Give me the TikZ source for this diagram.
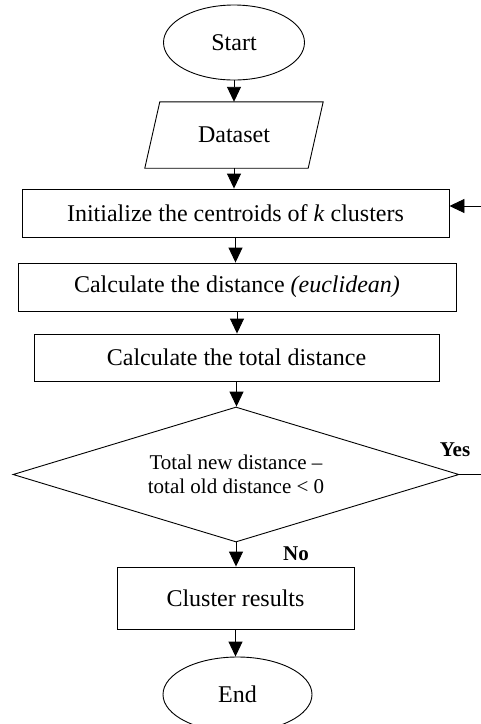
\documentclass[tikz,border=0pt]{standalone}
\usepackage{fontspec}
\setmainfont{Liberation Serif}
\usetikzlibrary{shapes.geometric,arrows.meta}
\begin{document}
\begin{tikzpicture}[x=1pt,y=-1pt,
  mainfont/.style={font=\fontsize{24}{28}\selectfont},
  box/.style={draw,line width=0.9pt,inner sep=0pt,mainfont},
  term/.style={ellipse,draw,line width=0.9pt,inner sep=0pt,minimum width=141pt,minimum height=75pt,mainfont},
  arr/.style={line width=0.9pt,-{Triangle[width=14pt,length=15pt]}},
  lbl/.style={font=\fontsize{21}{24}\bfseries\selectfont}]
\useasboundingbox (0,0) rectangle (481,724);
\node[term] (start) at (234,42.5) {Start};
\node[inner sep=0pt,minimum width=163pt,minimum height=66pt,mainfont] (data) at (234,135) {Dataset};
\draw[line width=0.9pt] ([xshift=7.5pt]data.north west) -- ([xshift=7.5pt]data.north east)
  -- ([xshift=-7.5pt]data.south east) -- ([xshift=-7.5pt]data.south west) -- cycle;
\node[box,minimum width=427pt,minimum height=48pt] (init) at (235.5,213) {Initialize the centroids of \textit{k} clusters};
\node[box,minimum width=438pt,minimum height=48pt] (calcd) at (237,287) {Calculate the distance \textit{(euclidean)}};
\node[box,minimum width=405pt,minimum height=47pt] (calct) at (236.5,357.5) {Calculate the total distance};
\node[diamond,draw,line width=0.9pt,inner sep=0pt,aspect=3.3,minimum width=446pt,minimum height=135pt,
  align=center,font=\fontsize{21}{24}\selectfont] (dec) at (236,474.5) {Total new distance –\\total old distance < 0};
\node[box,minimum width=237pt,minimum height=62pt] (clus) at (235.5,598) {Cluster results};
\node[term,minimum width=149pt] (end) at (237.5,694.5) {End};
\node[lbl] (yes) at (455,450) {Yes};
\node[lbl] (no) at (296,554) {No};
\draw[arr] (start.south) -- (start.south |- data.north);
\draw[arr] (data.south) -- (data.south |- init.north);
\draw[arr] (init.south) -- (init.south |- calcd.north);
\draw[arr] (calcd.south) -- (calcd.south |- calct.north);
\draw[arr] (calct.south) -- (calct.south |- dec.north);
\draw[arr] (dec.south) -- (dec.south |- clus.north);
\draw[arr] (clus.south) -- (clus.south |- end.north);
\draw[arr] (dec.east) -- ++(30,0) coordinate (loop) |- ([yshift=7pt]init.east);
\end{tikzpicture}
\end{document}
